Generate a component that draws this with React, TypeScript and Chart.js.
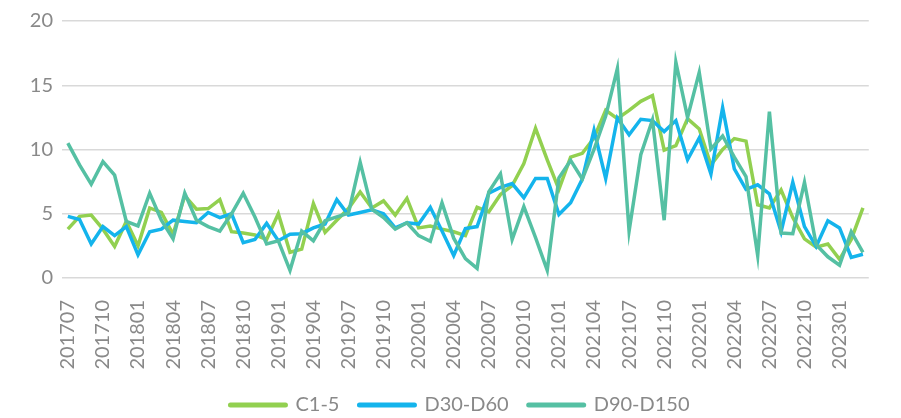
import React, { useEffect, useRef } from 'react';
import { Chart, registerables } from 'chart.js';

Chart.register(...registerables);

const categories: string[] = [
  '201707', '201708', '201709', '201710', '201711', '201712',
  '201801', '201802', '201803', '201804', '201805', '201806', '201807', '201808', '201809', '201810', '201811', '201812',
  '201901', '201902', '201903', '201904', '201905', '201906', '201907', '201908', '201909', '201910', '201911', '201912',
  '202001', '202002', '202003', '202004', '202005', '202006', '202007', '202008', '202009', '202010', '202011', '202012',
  '202101', '202102', '202103', '202104', '202105', '202106', '202107', '202108', '202109', '202110', '202111', '202112',
  '202201', '202202', '202203', '202204', '202205', '202206', '202207', '202208', '202209', '202210', '202211', '202212',
  '202301', '202302', '202303',
];

const c15: number[] = [
  3.8, 4.8, 4.9, 3.8, 2.45, 4.4,
  2.5, 5.45, 5.1, 3.4, 6.4, 5.35, 5.4, 6.1, 3.6, 3.5, 3.35, 3.0,
  5.0, 2.0, 2.25, 5.8, 3.55, 4.5, 5.4, 6.7, 5.45, 6.0, 4.9, 6.2,
  3.9, 4.05, 3.8, 3.6, 3.3, 5.5, 5.15, 6.5, 7.2, 8.9, 11.65, 9.2,
  6.9, 9.4, 9.7, 10.9, 13.05, 12.4, 13.05, 13.75, 14.2, 9.95, 10.3, 12.4,
  11.6, 8.8, 10.0, 10.85, 10.65, 5.7, 5.45, 6.85, 4.7, 3.05, 2.4, 2.65,
  1.45, 3.0, 5.45,
];

const d30d60: number[] = [
  4.8, 4.55, 2.65, 4.0, 3.3, 4.0,
  1.8, 3.6, 3.8, 4.5, 4.4, 4.3, 5.1, 4.7, 5.0, 2.75, 3.0, 4.25,
  2.9, 3.4, 3.45, 3.9, 4.2, 6.1, 4.9, 5.1, 5.3, 5.0, 3.9, 4.3,
  4.2, 5.5, 3.65, 1.75, 3.85, 4.0, 6.6, 7.05, 7.35, 6.25, 7.75, 7.75,
  4.95, 5.85, 7.7, 11.5, 7.75, 12.45, 11.15, 12.35, 12.25, 11.4, 12.25, 9.2,
  10.9, 8.1, 13.25, 8.5, 6.9, 7.25, 6.55, 3.6, 7.45, 4.0, 2.45, 4.45,
  3.9, 1.6, 1.85,
];

const d90d150: number[] = [
  10.5, 8.8, 7.3, 9.05, 8.0, 4.4,
  4.05, 6.6, 4.5, 3.05, 6.6, 4.5, 4.0, 3.65, 5.0, 6.6, 4.75, 2.65,
  2.9, 0.6, 3.65, 2.9, 4.45, 4.75, 5.05, 9.0, 5.35, 4.7, 3.8, 4.3,
  3.3, 2.85, 5.85, 3.1, 1.5, 0.75, 6.7, 8.1, 3.0, 5.55, 3.15, 0.6,
  7.8, 9.15, 7.7, 10.0, 12.6, 16.3, 3.65, 9.6, 12.3, 4.5, 16.8, 12.5,
  16.0, 10.05, 11.05, 9.4, 7.9, 1.75, 12.95, 3.5, 3.45, 7.45, 2.6, 1.65,
  1.0, 3.6, 2.0,
];

const yTicks: number[] = [0, 5, 10, 15, 20];

const GREEN = '#92D050';
const BLUE = '#14B4EC';
const TEAL = '#55C0A3';
const TEXT = '#898989';
const FONT = 'Lato, "Noto Sans", sans-serif';

export default function App() {
  const ref = useRef<HTMLCanvasElement>(null);

  useEffect(() => {
    if (!ref.current) return;
    const chart = new Chart(ref.current, {
      type: 'line',
      data: {
        labels: categories,
        datasets: [
          { label: 'C1-5', data: c15, borderColor: GREEN, backgroundColor: GREEN, borderWidth: 3.5, pointRadius: 0, tension: 0, order: 3 },
          { label: 'D30-D60', data: d30d60, borderColor: BLUE, backgroundColor: BLUE, borderWidth: 3.5, pointRadius: 0, tension: 0, order: 2 },
          { label: 'D90-D150', data: d90d150, borderColor: TEAL, backgroundColor: TEAL, borderWidth: 3.5, pointRadius: 0, tension: 0, order: 1 },
        ],
      },
      options: {
        animation: false,
        responsive: false,
        maintainAspectRatio: false,
        layout: { padding: { left: 28, right: 9, top: 17, bottom: -7 } },
        plugins: {
          tooltip: { enabled: false },
          legend: {
            position: 'bottom',
            labels: {
              usePointStyle: true,
              pointStyleWidth: 55,
              boxHeight: 5,
              padding: 20,
              color: TEXT,
              font: { family: FONT, size: 20 },
              sort: (a: any, b: any) => a.datasetIndex - b.datasetIndex,
              generateLabels: (c: any) =>
                (Chart.defaults.plugins.legend.labels.generateLabels as any)(c).map((it: any) => ({
                  ...it,
                  lineWidth: 5,
                  lineCap: 'round',
                  pointStyle: 'line',
                })),
            },
          },
        },
        scales: {
          x: {
            offset: true,
            grid: { display: false },
            border: { display: false },
            ticks: {
              autoSkip: false,
              minRotation: 90,
              maxRotation: 90,
              padding: 14,
              color: TEXT,
              font: { family: FONT, size: 20 },
              callback: function (this: any, v: any, i: number) {
                return i % 3 === 0 ? categories[i] : '';
              },
            },
            afterFit: (s: any) => { s.height = 97; },
          },
          y: {
            min: yTicks[0],
            max: yTicks[yTicks.length - 1],
            border: { display: false },
            grid: { color: '#D9D9D9', lineWidth: 1.5, drawTicks: false },
            ticks: {
              stepSize: 5,
              padding: 9,
              color: TEXT,
              font: { family: FONT, size: 20 },
            },
            afterFit: (s: any) => { s.width = 34; },
          },
        },
      },
    } as any);
    return () => chart.destroy();
  }, []);

  return (
    <div style={{ position: 'fixed', left: 0, top: 0, width: 901, height: 418, background: '#fff' }}>
      <canvas ref={ref} width={901} height={418} />
    </div>
  );
}
